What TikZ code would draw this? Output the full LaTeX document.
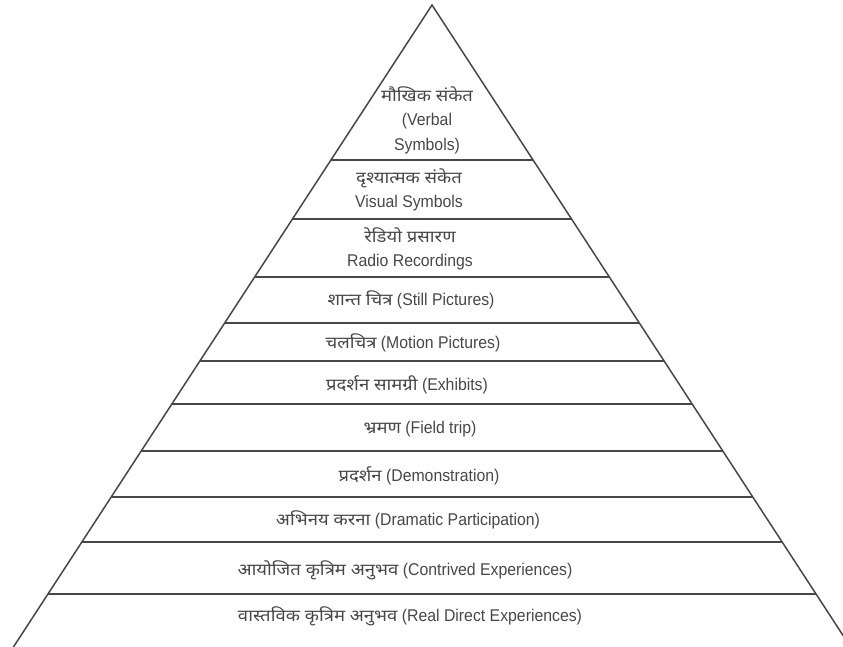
\documentclass[tikz,border=0pt]{standalone}
\usepackage{fontspec}
\setmainfont{Liberation Sans}[FakeStretch=0.93]
\newfontfamily\devafont[Script=Devanagari,FakeStretch=1.12]{Noto Sans}
\newcommand{\dv}[1]{{\devafont\fontsize{16.5}{24}\selectfont #1}}
\tikzset{
  edge/.style={draw=black!72, line width=1.5pt},
  lbl/.style={text=black!72, font=\fontsize{17}{24.5}\selectfont, align=center, inner sep=0pt},
}
\begin{document}
\begin{tikzpicture}[x=1pt,y=-1pt]
\useasboundingbox (0,0) rectangle (843,647);
\begin{scope}
\clip (0,0) rectangle (843,647);
\coordinate (apex) at (432,5);
\coordinate (bl) at ({432-0.652*660},665);
\coordinate (br) at ({432+0.652*660},665);
\draw[edge, line join=miter] (bl) -- (apex) -- (br);
\foreach \yy in {160,219,277,323,361,404,451,497,542,594}{
  \draw[edge] ({432-0.652*(\yy-5)},\yy) -- ({432+0.652*(\yy-5)},\yy);
}
\end{scope}
\node[lbl] (t1) at (427,120) {\dv{मौखिक संकेत}\\(Verbal\\Symbols)};
\node[lbl] (t2) at (409,190) {\dv{दृश्यात्मक संकेत}\\Visual Symbols};
\node[lbl] (t3) at (410,249) {\dv{रेडियो प्रसारण}\\Radio Recordings};
\node[lbl] (t4) at (411,300) {\dv{शान्त चित्र} (Still Pictures)};
\node[lbl] (t5) at (413,343) {\dv{चलचित्र} (Motion Pictures)};
\node[lbl] (t6) at (407,385) {\dv{प्रदर्शन सामग्री} (Exhibits)};
\node[lbl] (t7) at (420,429) {\dv{भ्रमण} (Field trip)};
\node[lbl] (t8) at (419,476) {\dv{प्रदर्शन} (Demonstration)};
\node[lbl] (t9) at (408,520) {\dv{अभिनय करना} (Dramatic Participation)};
\node[lbl] (t10) at (405,570) {\dv{आयोजित कृत्रिम अनुभव} (Contrived Experiences)};
\node[lbl] (t11) at (410,616) {\dv{वास्तविक कृत्रिम अनुभव} (Real Direct Experiences)};
\end{tikzpicture}
\end{document}
